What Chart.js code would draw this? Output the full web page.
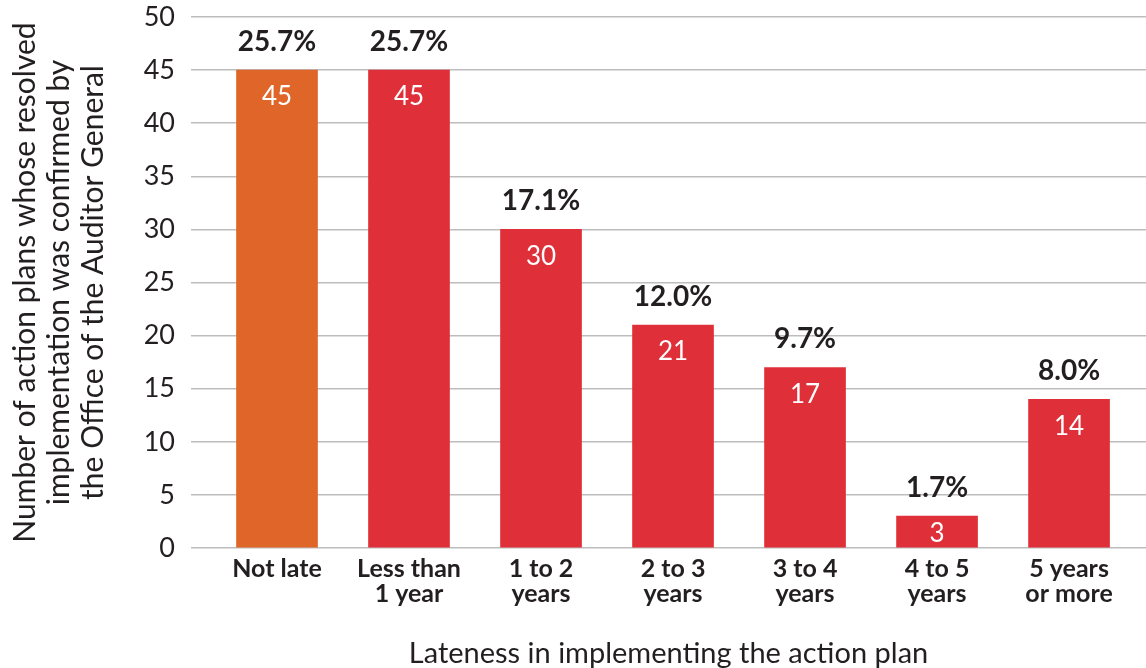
<!DOCTYPE html>
<html>
<head>
<meta charset="utf-8">
<script src="https://cdn.jsdelivr.net/npm/chart.js@4"></script>
<style>
  html, body { margin: 0; padding: 0; background: #ffffff; }
  #wrap { width: 1146px; height: 668px; position: relative; }
</style>
</head>
<body>
<div id="wrap"><canvas id="c"></canvas></div>
<script>
const categories = [
  ["Not late"],
  ["Less than", "1 year"],
  ["1 to 2", "years"],
  ["2 to 3", "years"],
  ["3 to 4", "years"],
  ["4 to 5", "years"],
  ["5 years", "or more"]
];
const counts = [45, 45, 30, 21, 17, 3, 14];
const percentLabels = ["25.7%", "25.7%", "17.1%", "12.0%", "9.7%", "1.7%", "8.0%"];
const barColors = ["#DF6529", "#DF2F38", "#DF2F38", "#DF2F38", "#DF2F38", "#DF2F38", "#DF2F38"];
const yTitle = ["Number of action plans whose resolved", "implementation was confirmed by", "the Office of the Auditor General"];
const xTitle = "Lateness in implementing the action plan";

const TEXT = "#231F20";
const FONT = "Lato, 'Open Sans', sans-serif";

const labelPlugin = {
  id: "barLabels",
  afterDatasetsDraw(chart) {
    const ctx = chart.ctx;
    const meta = chart.getDatasetMeta(0);
    ctx.save();
    ctx.textAlign = "center";
    ctx.textBaseline = "middle";
    meta.data.forEach((bar, i) => {
      const top = bar.y, base = bar.base;
      ctx.fillStyle = TEXT;
      ctx.font = "bold 28px " + FONT;
      ctx.fillText(percentLabels[i], bar.x, top - 28);
      ctx.fillStyle = "#ffffff";
      ctx.font = "26px " + FONT;
      const vy = Math.min(top + 27, (top + base) / 2 + 2);
      ctx.fillText(String(counts[i]), bar.x, vy);
    });
    ctx.restore();
  }
};

new Chart(document.getElementById("c"), {
  type: "bar",
  data: {
    datasets: [{
      data: counts.map((v, i) => ({ x: i, y: v })),
      backgroundColor: barColors,
      borderWidth: 0,
      barThickness: 81
    }]
  },
  options: {
    responsive: true,
    maintainAspectRatio: false,
    animation: false,
    devicePixelRatio: 1,
    layout: { padding: { top: 0, right: 0, left: 0, bottom: 0 } },
    plugins: { legend: { display: false }, tooltip: { enabled: false } },
    scales: {
      x: {
        type: "linear",
        offset: false,
        min: -0.6515,
        max: 6.583,
        grid: { display: false, drawTicks: false },
        border: { display: false },
        afterBuildTicks(axis) {
          axis.ticks = categories.map((c, i) => ({ value: i }));
        },
        afterFit(axis) { axis.height = 120; },
        ticks: {
          autoSkip: false,
          maxRotation: 0,
          padding: 8,
          color: TEXT,
          font: { family: FONT, size: 25, weight: "bold", lineHeight: 1.0 },
          callback: (v) => categories[v]
        },
        title: {
          display: true,
          text: xTitle,
          color: TEXT,
          font: { family: FONT, size: 29, lineHeight: 1.0 },
          padding: { top: 0, bottom: 0 }
        }
      },
      y: {
        min: 0,
        max: 50,
        afterFit(axis) {
          axis.width = 191;
          axis.paddingTop = 17;
          axis.paddingBottom = 0;
        },
        grid: { color: "#BDBDBD", lineWidth: 1.5, drawTicks: false },
        border: { display: false },
        ticks: {
          stepSize: 5,
          padding: 16,
          color: TEXT,
          font: { family: FONT, size: 27 }
        },
        title: {
          display: true,
          text: yTitle,
          color: TEXT,
          font: { family: FONT, size: 30, lineHeight: 1.14 },
          padding: { top: 8, bottom: 0 }
        }
      }
    }
  },
  plugins: [labelPlugin]
});
</script>
</body>
</html>
